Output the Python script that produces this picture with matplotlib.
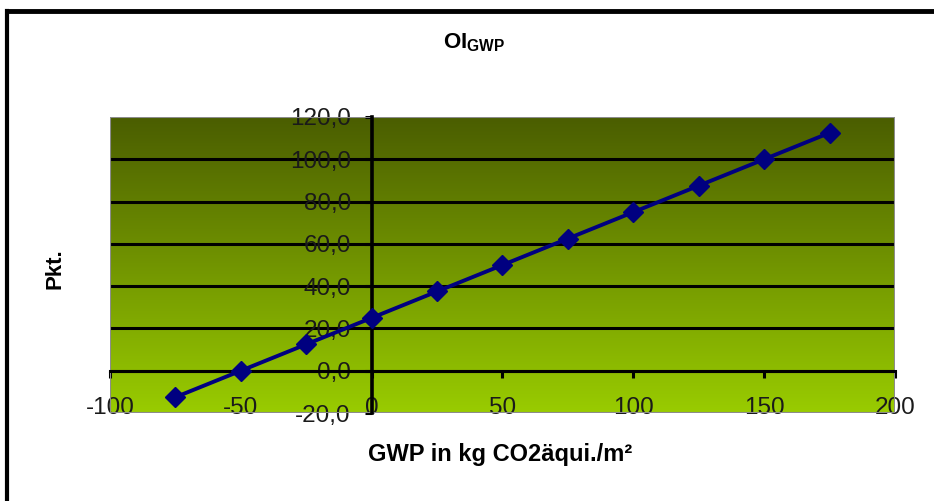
import numpy as np
import matplotlib
matplotlib.use("Agg")
import matplotlib.pyplot as plt
from matplotlib.colors import LinearSegmentedColormap
from matplotlib.patches import Rectangle
from matplotlib.lines import Line2D
from matplotlib.ticker import FuncFormatter

plt.rcParams['font.family'] = ['Liberation Sans', 'DejaVu Sans']
plt.rcParams['axes.unicode_minus'] = False
plt.rcParams['mathtext.fontset'] = 'custom'
plt.rcParams['mathtext.rm'] = 'Liberation Sans'
plt.rcParams['mathtext.bf'] = 'Liberation Sans:bold'

# GWP (kg CO2-eq per m2) vs. index points
gwp = [-75, -50, -25, 0, 25, 50, 75, 100, 125, 150, 175]
pkt = [-12.5, 0.0, 12.5, 25.0, 37.5, 50.0, 62.5, 75.0, 87.5, 100.0, 112.5]

x_ticks = [-100, -50, 0, 50, 100, 150, 200]
y_ticks = [-20, 0, 20, 40, 60, 80, 100, 120]

fig = plt.figure(figsize=(9.34, 5.01), dpi=100)
ax = fig.add_axes([0.1178, 0.1756, 0.8404, 0.5909])
ax.set_xlim(-100, 200)
ax.set_ylim(-20, 120)

# background gradient, dark olive at top to light yellow-green at bottom
cmap = LinearSegmentedColormap.from_list('olive', ['#99cc00', '#4a5d00'])
grad = np.linspace(0, 1, 256).reshape(-1, 1)
ax.imshow(grad, extent=[-100, 200, -20, 120], origin='lower', aspect='auto',
          cmap=cmap, zorder=0)

for y in y_ticks[1:-1]:
    ax.axhline(y, color='black', lw=2.2, zorder=1)

ax.plot(gwp, pkt, color='#000080', lw=2.8, marker='D', markersize=10,
        markerfacecolor='#000080', markeredgecolor='#000080', zorder=4,
        clip_on=False)

for s in ['top', 'right']:
    ax.spines[s].set_visible(False)
ax.spines['left'].set_position(('data', 0))
ax.spines['bottom'].set_position(('data', 0))
ax.spines['left'].set_linewidth(2.6)
ax.spines['bottom'].set_linewidth(2.2)
ax.spines['left'].set_zorder(3)
ax.add_patch(Rectangle((0, 0), 1, 1, transform=ax.transAxes, fill=False,
                       edgecolor='#8c8c8c', lw=1.5, zorder=2))

ax.set_xticks(x_ticks)
ax.set_yticks(y_ticks)
ax.yaxis.set_major_formatter(FuncFormatter(lambda v, p: f"{v:.1f}".replace('.', ',')))
ax.tick_params(axis='x', direction='out', length=5, width=2.2, pad=14,
               labelsize=17.5, labelcolor='#1a1a1a')
ax.tick_params(axis='y', direction='out', length=5, width=2.2, pad=10,
               labelsize=17.5, labelcolor='#1a1a1a')
for lab in ax.get_xticklabels() + ax.get_yticklabels():
    lab.set_zorder(5)

fig.text(0.508, 0.914, r'$\mathbf{OI}_{\mathbf{GWP}}$', ha='center', va='center',
         fontsize=16)
fig.text(0.535, 0.092, 'GWP in kg CO2äqui./m²', ha='center', va='center',
         fontsize=17, fontweight='bold')
fig.text(0.059, 0.463, 'Pkt.', ha='center', va='center', rotation=90,
         fontsize=16, fontweight='bold')

# outer chart frame (top and left edges)
fig.add_artist(Line2D([0.008, 0.008], [0.0, 0.978], transform=fig.transFigure,
                      color='black', lw=3))
fig.add_artist(Line2D([0.008, 1.0], [0.978, 0.978], transform=fig.transFigure,
                      color='black', lw=3.5))

fig.savefig('out.png', dpi=100)
